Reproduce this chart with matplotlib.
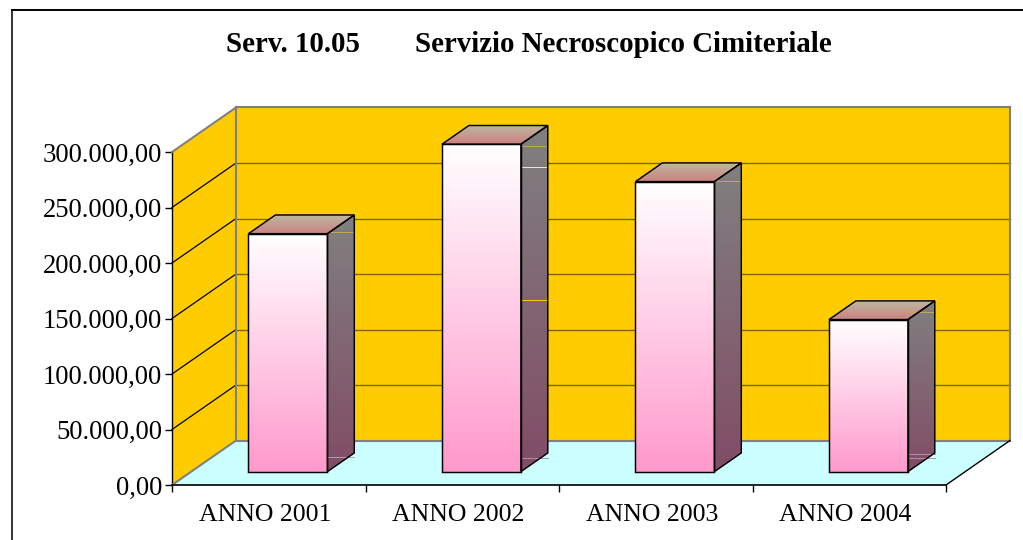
"""Serv. 10.05 - pseudo 3D column chart, Excel style."""

import matplotlib
matplotlib.use("Agg")
import matplotlib.pyplot as plt
from matplotlib.colors import LinearSegmentedColormap
from matplotlib.patches import Polygon
from matplotlib.ticker import FixedLocator, FuncFormatter
from matplotlib.transforms import ScaledTranslation
import numpy as np

YEARS = ["ANNO 2001", "ANNO 2002", "ANNO 2003", "ANNO 2004"]
VALUES = [214400, 295000, 261300, 137000]
Y_TICKS = [0, 50000, 100000, 150000, 200000, 250000, 300000]
# stray hairlines the original rendering left on the column sides
SIDE_MARKS = [
    [(228000, "#C8A850"), (25200, "#B0A0B0")],
    [(305400, "#C8A840"), (286500, "#E8E8E8"), (166700, "#FFCC00"), (24300, "#B090A8")],
    [(273900, "#C8A850")],
    [(155900, "#C8A850"), (27900, "#B090A8"), (24300, "#B090A8")],
]

W, H = 1023, 540
# depth of the chart box, in data units
DEPTH_X = 64 / 193.5
DEPTH_Y = 44.5 / 333 * 300000
BAR_WIDTH = 0.408
BAR_D0, BAR_D1 = 0.30, 0.72

WALL = "#FFCC00"
FLOOR = "#CCFFFF"
EDGE = "#808080"

plt.rcParams["font.family"] = ["Liberation Serif", "DejaVu Serif"]

fig = plt.figure(figsize=(W / 100, H / 100), dpi=100)
ax = fig.add_axes([172 / W, 1 - 485 / H, 774 / W, 333 / H])
ax.patch.set_visible(False)


def pt(x, y, d=0.0):
    """Project a point at depth d (0 front, 1 back) to data coordinates."""
    return (x + d * DEPTH_X, y + d * DEPTH_Y)


def poly(points, **kw):
    p = Polygon(points, closed=True, clip_on=False, **kw)
    ax.add_patch(p)
    return p


def gradient(colors, clip, extent, z):
    cmap = LinearSegmentedColormap.from_list("g", colors)
    grad = np.linspace(0, 1, 256).reshape(-1, 1)
    im = ax.imshow(grad, cmap=cmap, extent=extent, aspect="auto",
                   origin="upper", zorder=z, interpolation="bilinear")
    # clip to the face only, the columns may stick out above the axes box
    im.set_clip_box(fig.bbox)
    im.set_clip_path(clip)


n = len(YEARS)
ymax = 300000

# walls and floor
poly([pt(0, 0), pt(0, ymax), pt(0, ymax, 1), pt(0, 0, 1)], fc=WALL, ec="none", zorder=1)
poly([pt(0, 0, 1), pt(0, ymax, 1), pt(n, ymax, 1), pt(n, 0, 1)], fc=WALL, ec="none", zorder=1)
poly([pt(0, 0), pt(0, 0, 1), pt(n, 0, 1), pt(n, 0)], fc=FLOOR, ec="none", zorder=1)

# gridlines on both walls
for v in Y_TICKS[1:-1]:
    ax.plot(*zip(pt(0, v), pt(0, v, 1)), color="black", lw=0.9, zorder=2, clip_on=False)
    ax.plot(*zip(pt(0, v, 1), pt(n, v, 1)), color="#806600", lw=1.0, zorder=2, clip_on=False)

# grey box edges
for a, b in [(pt(0, 0), pt(0, 0, 1)), (pt(0, ymax), pt(0, ymax, 1)),
             (pt(0, 0, 1), pt(0, ymax, 1)), (pt(0, ymax, 1), pt(n, ymax, 1)),
             (pt(0, 0, 1), pt(n, 0, 1)), (pt(n, 0, 1), pt(n, ymax, 1))]:
    ax.plot(*zip(a, b), color=EDGE, lw=1.5, zorder=3, clip_on=False)
ax.plot(*zip(pt(n, 0), pt(n, 0, 1)), color="black", lw=1.0, zorder=3, clip_on=False)

# columns
for i, v in enumerate(VALUES):
    bx, by = pt(i + 0.5 - BAR_WIDTH / 2, 0, BAR_D0)
    top = by + v
    dd = BAR_D1 - BAR_D0
    fx = bx + BAR_WIDTH
    ex, ey = dd * DEPTH_X, dd * DEPTH_Y
    z = 5 + i

    front_pts = [(bx, by), (bx, top), (fx, top), (fx, by)]
    front = poly(front_pts, fc="none", ec="none")
    gradient(["#FFFFFF", "#FF99CC"], front, (bx, fx, by, top), z)

    side_pts = [(fx, by), (fx + ex, by + ey), (fx + ex, top + ey), (fx, top)]
    side = poly(side_pts, fc="none", ec="none")
    gradient(["#808080", "#824C66"], side, (fx, fx + ex, by, top + ey), z)

    top_pts = [(bx, top), (bx + ex, top + ey), (fx + ex, top + ey), (fx, top)]
    roof = poly(top_pts, fc="none", ec="none")
    gradient(["#BDB8A0", "#CC8080"], roof, (bx, fx + ex, top, top + ey), z)

    for mark, col in SIDE_MARKS[i]:
        ax.plot([fx, fx + ex], [mark, mark], color=col, lw=0.7, zorder=z + 0.2,
                clip_on=False)

    # outlines on top of the fills
    for pts in (front_pts, side_pts, top_pts):
        poly(pts, fc="none", ec="black", lw=1.05, zorder=z + 0.5)

ax.set_xlim(0, n)
ax.set_ylim(0, ymax)

# axes
for s in ("top", "right"):
    ax.spines[s].set_visible(False)
ax.spines["left"].set_linewidth(1.0)
ax.spines["bottom"].set_linewidth(1.2)
ax.spines["bottom"].set_zorder(4)
ax.set_yticks(Y_TICKS)
ax.yaxis.set_major_formatter(FuncFormatter(
    lambda v, _: f"{int(v):,}".replace(",", ".") + ",00"))
ax.xaxis.set_major_locator(FixedLocator(range(n + 1)))
ax.xaxis.set_major_formatter(FuncFormatter(lambda v, _: ""))
ax.set_xticks([i + 0.5 for i in range(n)], YEARS, minor=True)
ax.tick_params(axis="x", which="major", length=5, width=1)
ax.tick_params(axis="x", which="minor", length=0, labelsize=18.6, pad=13.7)
ax.tick_params(axis="y", length=5, width=1, labelsize=19.2, pad=2)
shift = ScaledTranslation(-4 / 100, 0, fig.dpi_scale_trans)
for lab in ax.get_xticklabels(minor=True):
    lab.set_transform(lab.get_transform() + shift)

fig.text(293.5 / W, 1 - 45 / H, "Serv. 10.05", ha="center", va="center",
         fontsize=20.8, fontweight="bold")
fig.text(623 / W, 1 - 45 / H, "Servizio Necroscopico Cimiteriale", ha="center",
         va="center", fontsize=20.8, fontweight="bold")

# outer frame of the pasted chart
fig.add_artist(plt.Line2D([12 / W, 12 / W], [0, 1 - 10 / H], color="#333333", lw=1.4))
fig.add_artist(plt.Line2D([12 / W, 1], [1 - 10 / H, 1 - 10 / H], color="black", lw=1.4))

fig.savefig("out.png", dpi=100)
